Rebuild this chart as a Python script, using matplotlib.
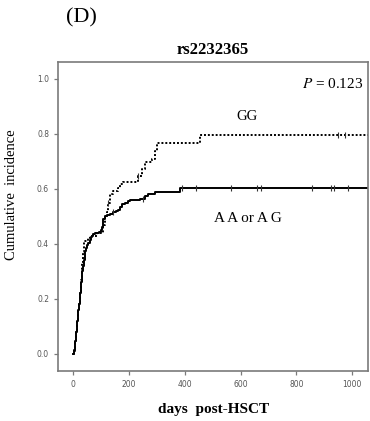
import numpy as np
import matplotlib.pyplot as plt

# cumulative incidence, AA or AG genotype (solid)
aa_days = [0, 1, 3, 5, 7, 8, 10, 12, 14, 16, 18, 20, 22, 24, 26, 28, 30, 32, 34, 37,
           40, 42, 46, 50, 53, 58, 62, 67, 72, 78, 85, 92, 99, 104, 108, 114, 121,
           130, 143, 152, 160, 168, 175, 186, 196, 204, 239, 257, 268, 293, 383]
aa_vals = [0.0, 0.005, 0.015, 0.03, 0.045, 0.06, 0.08, 0.10, 0.12, 0.14, 0.16, 0.18,
           0.20, 0.22, 0.24, 0.26, 0.28, 0.30, 0.32, 0.34, 0.36, 0.375, 0.385, 0.395,
           0.405, 0.415, 0.425, 0.43, 0.435, 0.44, 0.44, 0.445, 0.45, 0.46, 0.49,
           0.50, 0.505, 0.51, 0.515, 0.52, 0.525, 0.535, 0.545, 0.55, 0.555, 0.56,
           0.565, 0.575, 0.58, 0.59, 0.603]
aa_censored = [143, 251, 391, 439, 564, 658, 673, 856, 925, 936, 985]

# cumulative incidence, GG genotype (dotted)
gg_days = [0, 2, 4, 6, 8, 10, 12, 14, 16, 18, 20, 22, 24, 26, 28, 30, 32, 35, 38,
           53, 60, 84, 107, 110, 114, 121, 125, 132, 143, 160, 168, 178, 233, 246,
           257, 281, 293, 299, 455]
gg_vals = [0.0, 0.01, 0.025, 0.04, 0.06, 0.08, 0.10, 0.12, 0.14, 0.16, 0.18, 0.20,
           0.22, 0.24, 0.27, 0.30, 0.33, 0.37, 0.41, 0.42, 0.43, 0.44, 0.46, 0.47,
           0.50, 0.515, 0.55, 0.58, 0.593, 0.605, 0.617, 0.625, 0.647, 0.672, 0.697,
           0.71, 0.738, 0.766, 0.796]
gg_censored = [125, 233, 951, 975]

follow_end = 1058
p_text = "$P$ = 0.123"


def step_at(days, vals, t):
    i = np.searchsorted(days, t, side='right') - 1
    return np.asarray(vals)[i]


fig = plt.figure(figsize=(3.7, 4.21), dpi=100)
ax = fig.add_axes([0.157, 0.119, 0.838, 0.734])

serif = 'Liberation Serif'
spine_c = '#7a7a7a'

for days, vals, cens, ls in [(aa_days, aa_vals, aa_censored, '-'),
                             (gg_days, gg_vals, gg_censored, (0, (1, 1)))]:
    x = list(days) + [follow_end]
    y = list(vals) + [vals[-1]]
    ax.step(x, y, where='post', color='black', lw=1.4, linestyle=ls)
    cy = [step_at(days, vals, t) for t in cens]
    ax.plot(cens, cy, linestyle='none', marker='|', color='#333333',
            markersize=4, markeredgewidth=0.8)

ax.set_xlim(-55, follow_end)
ax.set_ylim(-0.062, 1.062)
ax.set_xticks([0, 200, 400, 600, 800, 1000])
ax.set_yticks([0.0, 0.2, 0.4, 0.6, 0.8, 1.0])
ax.set_yticklabels(['0.0', '0.2', '0.4', '0.6', '0.8', '1.0'])
ax.tick_params(labelsize=5.5, labelcolor='#555555', color=spine_c,
               length=3, width=0.9)
for s in ax.spines.values():
    s.set_color(spine_c)
    s.set_linewidth(1.2)

ax.set_title('rs2232365', fontfamily=serif, fontweight='bold', fontsize=12,
             pad=6)
ax.set_xlabel('days  post-HSCT', fontfamily=serif, fontweight='bold',
              fontsize=11, labelpad=10)
ax.set_ylabel('Cumulative  incidence', fontfamily=serif, fontsize=10.5)
ax.yaxis.set_label_coords(-0.13, 0.57)

ax.text(0.985, 0.98, p_text, transform=ax.get_yaxis_transform(),
        ha='right', va='center', fontfamily=serif, fontsize=11,
        math_fontfamily='stix')
ax.text(622, 0.865, 'GG', ha='center', va='center', fontfamily=serif,
        fontsize=10.5)
ax.text(627, 0.493, 'A A or A G', ha='center', va='center', fontfamily=serif,
        fontsize=11)

fig.text(0.178, 0.958, '(D)', ha='left', va='center', fontfamily=serif,
         fontsize=16)

fig.savefig('out.png', dpi=100)
